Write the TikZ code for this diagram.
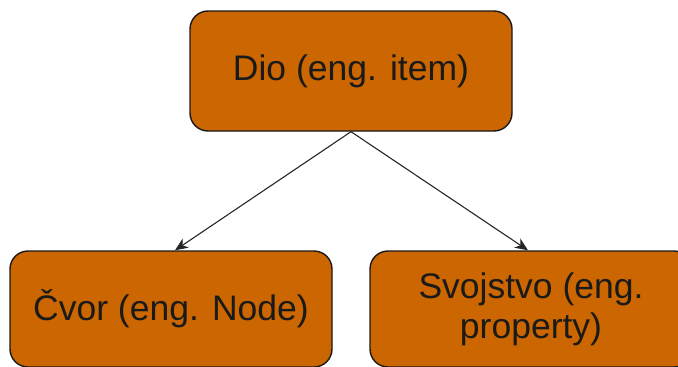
\documentclass[tikz,border=0pt]{standalone}
\usepackage{fontspec}
\setmainfont{Liberation Sans}
\usetikzlibrary{arrows.meta}
\definecolor{boxfill}{HTML}{CC6600}
\definecolor{txt}{HTML}{1A1A1A}
\tikzset{
  box/.style={draw=black!90, line width=1.4pt, fill=boxfill, rounded corners=18pt,
    minimum width=322pt, inner sep=0pt, align=center, text=txt,
    font=\fontsize{35.5}{40}\selectfont},
  arr/.style={draw=black!85, line width=1.1pt, -{Stealth[length=13pt,width=11pt,inset=4pt]}}
}
\begin{document}
\begin{tikzpicture}[x=1pt,y=-1pt]
\useasboundingbox (0,0) rectangle (678,367);
\node[box, minimum height=120pt] (dio) at (351,71) {Dio (eng. item)};
\node[box, minimum height=116pt] (cvor) at (171,309) {Čvor (eng. Node)};
\node[box, minimum height=116pt] (svoj) at (531,309) {Svojstvo (eng.\\property)};
\draw[arr] (dio.south) -- ([xshift=4pt]cvor.north);
\draw[arr] (dio.south) -- ([xshift=-3pt]svoj.north);
\end{tikzpicture}
\end{document}
